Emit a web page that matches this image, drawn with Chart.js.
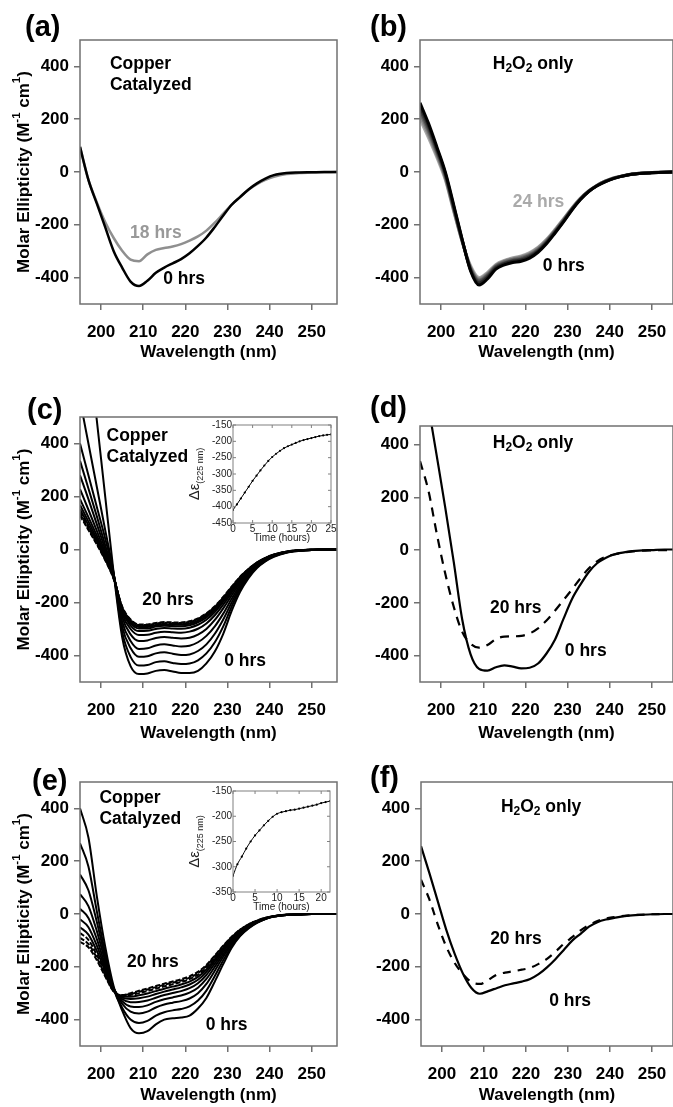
<!DOCTYPE html>
<html>
<head>
<meta charset="utf-8">
<script src="https://cdn.jsdelivr.net/npm/chart.js@4.4.1/dist/chart.umd.min.js"></script>
<style>
  body { margin: 0; background: #fff; }
  #fig { position: relative; width: 673px; height: 1107px; overflow: hidden; background: #fff; }
  #fig canvas { position: absolute; }
  .tag { position: absolute; font: bold 29px "Liberation Sans", Arial, Helvetica, sans-serif; line-height: 30px; color: #000; }
</style>
</head>
<body>
<div id="fig">
  <canvas id="pa" width="340" height="365" style="left:0;top:0"></canvas>
  <canvas id="pb" width="333" height="365" style="left:340px;top:0"></canvas>
  <canvas id="pc" width="340" height="380" style="left:0;top:365px"></canvas>
  <canvas id="pd" width="333" height="380" style="left:340px;top:365px"></canvas>
  <canvas id="pe" width="340" height="362" style="left:0;top:745px"></canvas>
  <canvas id="pf" width="333" height="362" style="left:340px;top:745px"></canvas>
  <canvas id="ic" width="160" height="145" style="left:180px;top:405px"></canvas>
  <canvas id="ie" width="160" height="140" style="left:180px;top:775px"></canvas>
  <div class="tag" style="left:25px;top:11px">(a)</div>
  <div class="tag" style="left:370px;top:11px">(b)</div>
  <div class="tag" style="left:27px;top:394px">(c)</div>
  <div class="tag" style="left:370px;top:392px">(d)</div>
  <div class="tag" style="left:32px;top:765px">(e)</div>
  <div class="tag" style="left:370px;top:762px">(f)</div>
</div>
<script>
// Espectros de dicroísmo circular: 6 paneles + 2 recuadros de cinética

// Eje de longitud de onda común (nm)
const wl = [195,197,199,201,203,205,207,209,211,213,215,217,219,221,223,225,227,229,231,233,235,237,239,241,244,247,250,253,256];
const xTicks = [200,210,220,230,240,250];
const yTicks = [-400,-200,0,200,400];

// (a) Cobre catalizado
const a0h  = [95,-30,-120,-210,-300,-362,-415,-432,-412,-382,-362,-346,-330,-308,-280,-248,-208,-165,-124,-95,-66,-43,-25,-12,-4,-2,-1,0,0];
const a18h = [95,-30,-115,-190,-250,-298,-332,-338,-312,-295,-288,-282,-273,-260,-244,-222,-192,-158,-124,-94,-67,-46,-30,-18,-8,-4,-2,-1,0];

// (b) Solo H2O2, 0 a 24 h
const b0 = [262,185,95,0,-125,-255,-375,-428,-405,-368,-352,-343,-338,-326,-304,-272,-232,-190,-145,-105,-74,-52,-36,-24,-12,-6,-3,-1,0];
const b1 = [250,175,88,-5,-130,-257,-372,-420,-398,-363,-347,-338,-333,-321,-300,-268,-229,-188,-143,-104,-74,-52,-36,-24,-12,-6,-3,-1,0];
const b2 = [238,164,80,-12,-136,-259,-368,-414,-393,-359,-344,-335,-329,-317,-296,-265,-226,-185,-141,-103,-73,-51,-35,-23,-12,-6,-3,-1,0];
const b3 = [226,153,72,-18,-141,-261,-364,-409,-388,-356,-340,-331,-325,-313,-292,-261,-223,-182,-140,-102,-73,-51,-35,-23,-11,-5,-2,-1,0];
const b4 = [213,141,63,-24,-146,-263,-360,-404,-384,-353,-337,-328,-321,-309,-288,-258,-220,-180,-138,-101,-72,-50,-34,-22,-11,-5,-2,-1,0];
const b5 = [200,130,55,-30,-150,-265,-355,-400,-380,-350,-335,-325,-318,-305,-285,-255,-218,-178,-137,-100,-72,-50,-34,-22,-11,-5,-2,-1,0];

// (c) Cobre catalizado, 0 a 20 h
const c0  = [1060,774,486,198,-90,-330,-440,-470,-468,-458,-455,-460,-466,-466,-458,-430,-385,-318,-232,-160,-108,-70,-45,-28,-12,-5,-2,0,0];
const c1  = [565,400,236,72,-90,-310,-405,-438,-436,-425,-422,-428,-432,-430,-418,-392,-350,-290,-215,-150,-102,-67,-43,-26,-11,-4,-2,0,0];
const c2  = [400,280,160,40,-92,-290,-372,-405,-403,-392,-388,-393,-398,-396,-383,-358,-318,-264,-200,-142,-97,-64,-41,-25,-10,-4,-2,0,0];
const c3  = [335,230,125,15,-95,-272,-345,-375,-373,-362,-358,-362,-366,-363,-350,-326,-290,-242,-186,-134,-92,-61,-39,-24,-10,-4,-2,0,0];
const c4  = [280,190,95,0,-98,-255,-320,-345,-343,-334,-330,-333,-336,-333,-321,-300,-266,-222,-173,-126,-87,-58,-38,-23,-9,-4,-1,0,0];
const c5  = [228,150,70,-12,-100,-242,-300,-323,-322,-314,-310,-312,-314,-310,-299,-279,-248,-208,-163,-119,-83,-56,-36,-22,-9,-4,-1,0,0];
const c6  = [190,122,52,-22,-102,-232,-287,-308,-307,-300,-296,-298,-299,-295,-284,-265,-236,-198,-156,-115,-80,-54,-35,-21,-9,-4,-1,0,0];
const c7  = [168,105,40,-28,-104,-226,-279,-298,-298,-291,-288,-289,-290,-286,-275,-256,-228,-192,-151,-111,-78,-52,-34,-21,-9,-4,-1,0,0];
const c8  = [152,92,32,-33,-106,-222,-273,-292,-292,-286,-283,-284,-284,-280,-269,-250,-223,-187,-147,-108,-76,-51,-33,-20,-8,-3,-1,0,0];
const c9  = [142,84,26,-36,-108,-219,-269,-288,-288,-282,-279,-280,-280,-276,-265,-246,-219,-184,-144,-106,-75,-50,-33,-20,-8,-3,-1,0,0];
const c10 = [134,78,22,-39,-110,-217,-266,-285,-285,-279,-276,-277,-277,-273,-262,-243,-216,-181,-142,-104,-74,-49,-32,-19,-8,-3,-1,0,0];
const c11 = [128,74,19,-41,-112,-215,-264,-283,-283,-277,-274,-275,-275,-271,-260,-241,-214,-179,-140,-103,-73,-49,-32,-19,-8,-3,-1,0,0];

// (d) Solo H2O2
const d0h  = [740,545,354,160,-45,-262,-395,-450,-457,-444,-437,-442,-448,-446,-430,-392,-340,-262,-187,-132,-84,-50,-30,-17,-7,-2,0,2,2];
const d20h = [337,225,60,-90,-215,-310,-355,-370,-360,-337,-328,-327,-325,-316,-297,-267,-230,-190,-150,-108,-70,-43,-26,-17,-8,-3,-1,0,0];

// (e) Cobre catalizado, 0 a 20 h
const e0 = [400,290,67,-125,-275,-365,-432,-452,-444,-418,-400,-395,-392,-385,-358,-318,-256,-190,-128,-84,-55,-34,-19,-10,-4,-2,0,0,0];
const e1 = [268,180,10,-150,-285,-355,-400,-413,-405,-385,-372,-365,-360,-350,-328,-290,-235,-175,-122,-82,-53,-33,-19,-10,-4,-2,0,0,0];
const e2 = [150,90,-30,-165,-282,-340,-370,-377,-370,-354,-343,-336,-330,-320,-300,-265,-215,-162,-114,-77,-50,-32,-18,-10,-4,-2,0,0,0];
const e3 = [75,30,-65,-180,-282,-330,-350,-352,-346,-333,-323,-316,-309,-298,-279,-246,-200,-152,-108,-73,-48,-30,-17,-9,-4,-2,0,0,0];
const e4 = [20,-15,-95,-195,-285,-322,-334,-333,-328,-317,-307,-299,-292,-281,-262,-231,-188,-143,-102,-70,-46,-29,-17,-9,-3,-1,0,0,0];
const e5 = [-20,-50,-120,-207,-288,-317,-322,-319,-313,-303,-294,-286,-278,-267,-249,-219,-178,-136,-97,-67,-44,-28,-16,-9,-3,-1,0,0,0];
const e6 = [-50,-78,-140,-218,-290,-313,-313,-308,-301,-292,-283,-275,-267,-256,-238,-210,-171,-130,-93,-64,-42,-27,-16,-8,-3,-1,0,0,0];
const e7 = [-72,-98,-155,-226,-292,-310,-307,-300,-292,-283,-274,-266,-258,-247,-230,-203,-165,-126,-90,-62,-41,-26,-15,-8,-3,-1,0,0,0];
const e8 = [-90,-114,-166,-232,-293,-308,-303,-295,-286,-277,-268,-260,-252,-241,-224,-197,-160,-122,-88,-60,-40,-26,-15,-8,-3,-1,0,0,0];
const e9 = [-105,-126,-175,-237,-294,-307,-300,-291,-282,-273,-264,-256,-247,-236,-219,-193,-157,-120,-86,-59,-39,-25,-14,-8,-3,-1,0,0,0];

// (f) Solo H2O2
const f0h  = [257,155,48,-59,-150,-226,-280,-302,-292,-281,-270,-263,-256,-246,-228,-202,-171,-136,-101,-75,-48,-31,-21,-15,-7,-3,-1,0,0];
const f20h = [130,55,-40,-123,-185,-228,-258,-265,-250,-230,-222,-217,-211,-204,-189,-170,-143,-113,-88,-62,-42,-27,-17,-12,-6,-3,-1,0,0];

// Recuadros: cinética a 225 nm
const tC = [0,1,2,3,4,5,6,7,8,9,10,11,12,13,14,15,16,17,18,19,20,21,22,23,24,25];
const kC = [-410,-393,-375,-357,-339,-321,-305,-289,-274,-260,-248,-238,-229,-221,-215,-210,-205,-200,-196,-193,-190,-187,-184,-182,-180,-179];
const tE = [0,1,2,3,4,5,6,7,8,9,10,11,12,13,14,15,16,17,18,19,20,21,22];
const kE = [-318,-295,-280,-264,-250,-238,-228,-218,-209,-201,-195,-192,-190,-188,-187,-185,-183,-181,-179,-177,-174,-172,-170];
const tickC = [0,5,10,15,20,25];
const tickE = [0,5,10,15,20];
const yTickC = [-450,-400,-350,-300,-250,-200,-150];
const yTickE = [-350,-300,-250,-200,-150];

const FAM = '"Liberation Sans", Arial, Helvetica, sans-serif';
const B = (t, c) => ({ t: t, f: 'bold 17.5px ' + FAM });
const H2O2 = [
  { t: 'H', f: 'bold 17.5px ' + FAM }, { t: '2', f: 'bold 12px ' + FAM, dy: 5 },
  { t: 'O', f: 'bold 17.5px ' + FAM }, { t: '2', f: 'bold 12px ' + FAM, dy: 5 },
  { t: ' only', f: 'bold 17.5px ' + FAM }
];
const tituloY = [
  { t: 'Molar Ellipticity (M', f: 'bold 17px ' + FAM },
  { t: '-1', f: 'bold 11.5px ' + FAM, dy: -7 },
  { t: ' cm', f: 'bold 17px ' + FAM },
  { t: '1', f: 'bold 11.5px ' + FAM, dy: -7 },
  { t: ')', f: 'bold 17px ' + FAM }
];
const tituloX = [{ t: 'Wavelength (nm)', f: 'bold 17px ' + FAM }];

// Texto con sub/superíndices
function drawRich(ctx, parts, x, y, align) {
  let w = 0;
  parts.forEach(p => { ctx.font = p.f; w += ctx.measureText(p.t).width; });
  let cx = align === 'left' ? x : (align === 'right' ? x - w : x - w / 2);
  ctx.textAlign = 'left';
  ctx.textBaseline = 'middle';
  parts.forEach(p => {
    ctx.font = p.f;
    ctx.fillText(p.t, cx, y + (p.dy || 0));
    cx += ctx.measureText(p.t).width;
  });
}

// Marco, marcas internas, títulos y etiquetas
const decoPlugin = {
  id: 'deco',
  beforeDraw(chart, args, o) {
    if (!o.fill) return;
    const a = chart.chartArea;
    chart.ctx.save();
    chart.ctx.fillStyle = '#fff';
    chart.ctx.fillRect(a.left, a.top, a.right - a.left, a.bottom - a.top);
    chart.ctx.restore();
  },
  afterDraw(chart, args, o) {
    const { ctx, chartArea: a, scales } = chart;
    ctx.save();
    ctx.strokeStyle = o.frameColor;
    ctx.lineWidth = o.frameWidth;
    ctx.strokeRect(a.left, a.top, a.right - a.left, a.bottom - a.top);
    if (o.innerTicks) {
      const L = o.innerTicks;
      ctx.beginPath();
      scales.x.ticks.forEach(t => {
        const px = scales.x.getPixelForValue(t.value);
        ctx.moveTo(px, a.bottom); ctx.lineTo(px, a.bottom - L);
        ctx.moveTo(px, a.top); ctx.lineTo(px, a.top + L);
      });
      scales.y.ticks.forEach(t => {
        const py = scales.y.getPixelForValue(t.value);
        ctx.moveTo(a.left, py); ctx.lineTo(a.left + L, py);
        ctx.moveTo(a.right, py); ctx.lineTo(a.right - L, py);
      });
      ctx.stroke();
    }
    ctx.fillStyle = o.textColor || '#000';
    if (o.xTitle) drawRich(ctx, o.xTitle.parts, (a.left + a.right) / 2, a.bottom + o.xTitle.offset, 'center');
    if (o.yTitle) {
      ctx.save();
      ctx.translate(a.left - o.yTitle.offset, (a.top + a.bottom) / 2);
      ctx.rotate(-Math.PI / 2);
      drawRich(ctx, o.yTitle.parts, 0, 0, 'center');
      ctx.restore();
    }
    (o.notes || []).forEach(n => {
      ctx.fillStyle = n.color || '#000';
      drawRich(ctx, n.parts, scales.x.getPixelForValue(n.x), scales.y.getPixelForValue(n.y), n.align || 'center');
    });
    ctx.restore();
  }
};

function sinRelleno(s) { s.paddingLeft = 0; s.paddingRight = 0; s.paddingTop = 0; s.paddingBottom = 0; }

function crearPanel(id, cfg) {
  const fuenteTick = { family: FAM, size: 17, weight: 'bold' };
  return new Chart(document.getElementById(id), {
    type: 'line',
    data: {
      datasets: cfg.series.map(s => ({
        data: s.y.map((v, i) => ({ x: wl[i], y: v })),
        borderColor: s.color,
        borderWidth: s.width,
        borderDash: s.dash || [],
        pointRadius: 0,
        fill: false,
        cubicInterpolationMode: 'monotone'
      }))
    },
    options: {
      responsive: false,
      animation: false,
      devicePixelRatio: 1,
      events: [],
      layout: { padding: { top: cfg.padTop, right: cfg.padRight, left: 0, bottom: 0 } },
      plugins: {
        legend: { display: false },
        tooltip: { enabled: false },
        deco: {
          frameColor: '#707070', frameWidth: 1.5,
          xTitle: { parts: tituloX, offset: cfg.xTitleOff },
          yTitle: cfg.yTitle ? { parts: tituloY, offset: 56 } : null,
          notes: cfg.notes
        }
      },
      scales: {
        x: {
          type: 'linear', min: 195, max: cfg.xMax,
          afterBuildTicks: s => { s.ticks = xTicks.map(v => ({ value: v })); },
          afterFit: s => { s.height = cfg.xH; sinRelleno(s); },
          grid: { drawOnChartArea: false, drawTicks: true, tickLength: 6, color: '#707070', lineWidth: 1.5 },
          border: { display: false },
          ticks: { font: fuenteTick, color: '#000', padding: 12, maxRotation: 0, autoSkip: false }
        },
        y: {
          type: 'linear', min: -500, max: cfg.yMax,
          afterBuildTicks: s => { s.ticks = yTicks.map(v => ({ value: v })); },
          afterFit: s => { s.width = cfg.yW; sinRelleno(s); },
          grid: { drawOnChartArea: false, drawTicks: true, tickLength: 6, color: '#707070', lineWidth: 1.5 },
          border: { display: false },
          ticks: { font: fuenteTick, color: '#000', padding: 5, autoSkip: false }
        }
      }
    },
    plugins: [decoPlugin]
  });
}

function crearRecuadro(id, cfg) {
  const fuente = { family: FAM, size: 10 };
  return new Chart(document.getElementById(id), {
    type: 'line',
    data: {
      datasets: [{
        data: cfg.y.map((v, i) => ({ x: cfg.t[i], y: v })),
        borderColor: '#000',
        borderWidth: 1,
        pointRadius: 1.1,
        pointBackgroundColor: '#000',
        pointBorderWidth: 0,
        fill: false,
        cubicInterpolationMode: 'monotone'
      }]
    },
    options: {
      responsive: false,
      animation: false,
      devicePixelRatio: 1,
      events: [],
      layout: { padding: { top: cfg.padTop, right: cfg.padRight, left: 0, bottom: 0 } },
      plugins: {
        legend: { display: false },
        tooltip: { enabled: false },
        deco: {
          fill: true, frameColor: '#808080', frameWidth: 1, innerTicks: 3, textColor: '#222',
          xTitle: { parts: [{ t: 'Time (hours)', f: '10px ' + FAM }], offset: 15 },
          yTitle: { parts: [{ t: 'Δε', f: '15px ' + FAM }, { t: '(225 nm)', f: '9px ' + FAM, dy: 6 }], offset: 38 }
        }
      },
      scales: {
        x: {
          type: 'linear', min: 0, max: cfg.xMax,
          afterBuildTicks: s => { s.ticks = cfg.xTicks.map(v => ({ value: v })); },
          afterFit: s => { s.height = cfg.xH; sinRelleno(s); },
          grid: { drawOnChartArea: false, drawTicks: false },
          border: { display: false },
          ticks: { font: fuente, color: '#222', padding: 0, maxRotation: 0, autoSkip: false }
        },
        y: {
          type: 'linear', min: cfg.yMin, max: -150,
          afterBuildTicks: s => { s.ticks = cfg.yTicks.map(v => ({ value: v })); },
          afterFit: s => { s.width = 53; sinRelleno(s); },
          grid: { drawOnChartArea: false, drawTicks: false },
          border: { display: false },
          ticks: { font: fuente, color: '#222', padding: 1, autoSkip: false }
        }
      }
    },
    plugins: [decoPlugin]
  });
}

const negro = (y, extra) => Object.assign({ y: y, color: '#000', width: 2 }, extra || {});
const cobre = (x, y1, y2) => [
  { x: x, y: y1, parts: [B('Copper')], align: 'left' },
  { x: x, y: y2, parts: [B('Catalyzed')], align: 'left' }
];

crearPanel('pa', {
  xMax: 256, yMax: 500, yW: 80, xH: 61, padTop: 40, padRight: 3, xTitleOff: 48, yTitle: true,
  series: [negro(a0h, { width: 2.5 }), { y: a18h, color: '#8f8f8f', width: 2.5 }],
  notes: cobre(202.1, 409, 330).concat([
    { x: 213.0, y: -231, parts: [B('18 hrs')], color: '#999' },
    { x: 219.7, y: -405, parts: [B('0 hrs')] }
  ])
});

crearPanel('pb', {
  xMax: 255, yMax: 500, yW: 80, xH: 61, padTop: 40, padRight: 0, xTitleOff: 48, yTitle: false,
  series: [
    { y: b0, color: '#000', width: 3 }, { y: b1, color: '#262626', width: 3 },
    { y: b2, color: '#474747', width: 3 }, { y: b3, color: '#686868', width: 3 },
    { y: b4, color: '#898989', width: 3 }, { y: b5, color: '#aaaaaa', width: 3 }
  ],
  notes: [
    { x: 221.8, y: 409, parts: H2O2 },
    { x: 223.1, y: -116, parts: [B('24 hrs')], color: '#aaa' },
    { x: 229.1, y: -355, parts: [B('0 hrs')] }
  ]
});

crearPanel('pc', {
  xMax: 256, yMax: 500, yW: 80, xH: 63, padTop: 52, padRight: 3, xTitleOff: 51, yTitle: true,
  series: [negro(c0), negro(c1), negro(c2), negro(c3), negro(c4), negro(c5), negro(c6), negro(c7),
    negro(c8), negro(c9, { dash: [5, 2] }), negro(c10, { dash: [5, 2] }), negro(c11, { dash: [5, 2] })],
  notes: cobre(201.3, 428, 348).concat([
    { x: 215.9, y: -193, parts: [B('20 hrs')] },
    { x: 234.2, y: -421, parts: [B('0 hrs')] }
  ])
});

crearPanel('pd', {
  xMax: 255, yMax: 470, yW: 80, xH: 63, padTop: 61, padRight: 0, xTitleOff: 51, yTitle: false,
  series: [negro(d0h, { width: 2.2 }), negro(d20h, { width: 2.2, dash: [9, 7] })],
  notes: [
    { x: 221.8, y: 405, parts: H2O2 },
    { x: 217.7, y: -221, parts: [B('20 hrs')] },
    { x: 234.3, y: -385, parts: [B('0 hrs')] }
  ]
});

crearPanel('pe', {
  xMax: 256, yMax: 500, yW: 80, xH: 61, padTop: 37, padRight: 3, xTitleOff: 49, yTitle: true,
  series: [negro(e0), negro(e1), negro(e2), negro(e3), negro(e4), negro(e5), negro(e6),
    negro(e7, { dash: [5, 2] }), negro(e8, { dash: [5, 2] }), negro(e9, { dash: [5, 2] })],
  notes: cobre(199.6, 438, 359).concat([
    { x: 212.3, y: -181, parts: [B('20 hrs')] },
    { x: 229.8, y: -420, parts: [B('0 hrs')] }
  ])
});

crearPanel('pf', {
  xMax: 255, yMax: 500, yW: 81, xH: 61, padTop: 37, padRight: 0, xTitleOff: 49, yTitle: false,
  series: [negro(f0h, { width: 2.2 }), negro(f20h, { width: 2.2, dash: [8, 7] })],
  notes: [
    { x: 223.6, y: 406, parts: H2O2 },
    { x: 217.6, y: -96, parts: [B('20 hrs')] },
    { x: 230.5, y: -332, parts: [B('0 hrs')] }
  ]
});

crearRecuadro('ic', { t: tC, y: kC, xMax: 25, yMin: -450, xTicks: tickC, yTicks: yTickC, padTop: 20, padRight: 9, xH: 27 });
crearRecuadro('ie', { t: tE, y: kE, xMax: 22, yMin: -350, xTicks: tickE, yTicks: yTickE, padTop: 16, padRight: 10, xH: 23 });
</script>
</body>
</html>
